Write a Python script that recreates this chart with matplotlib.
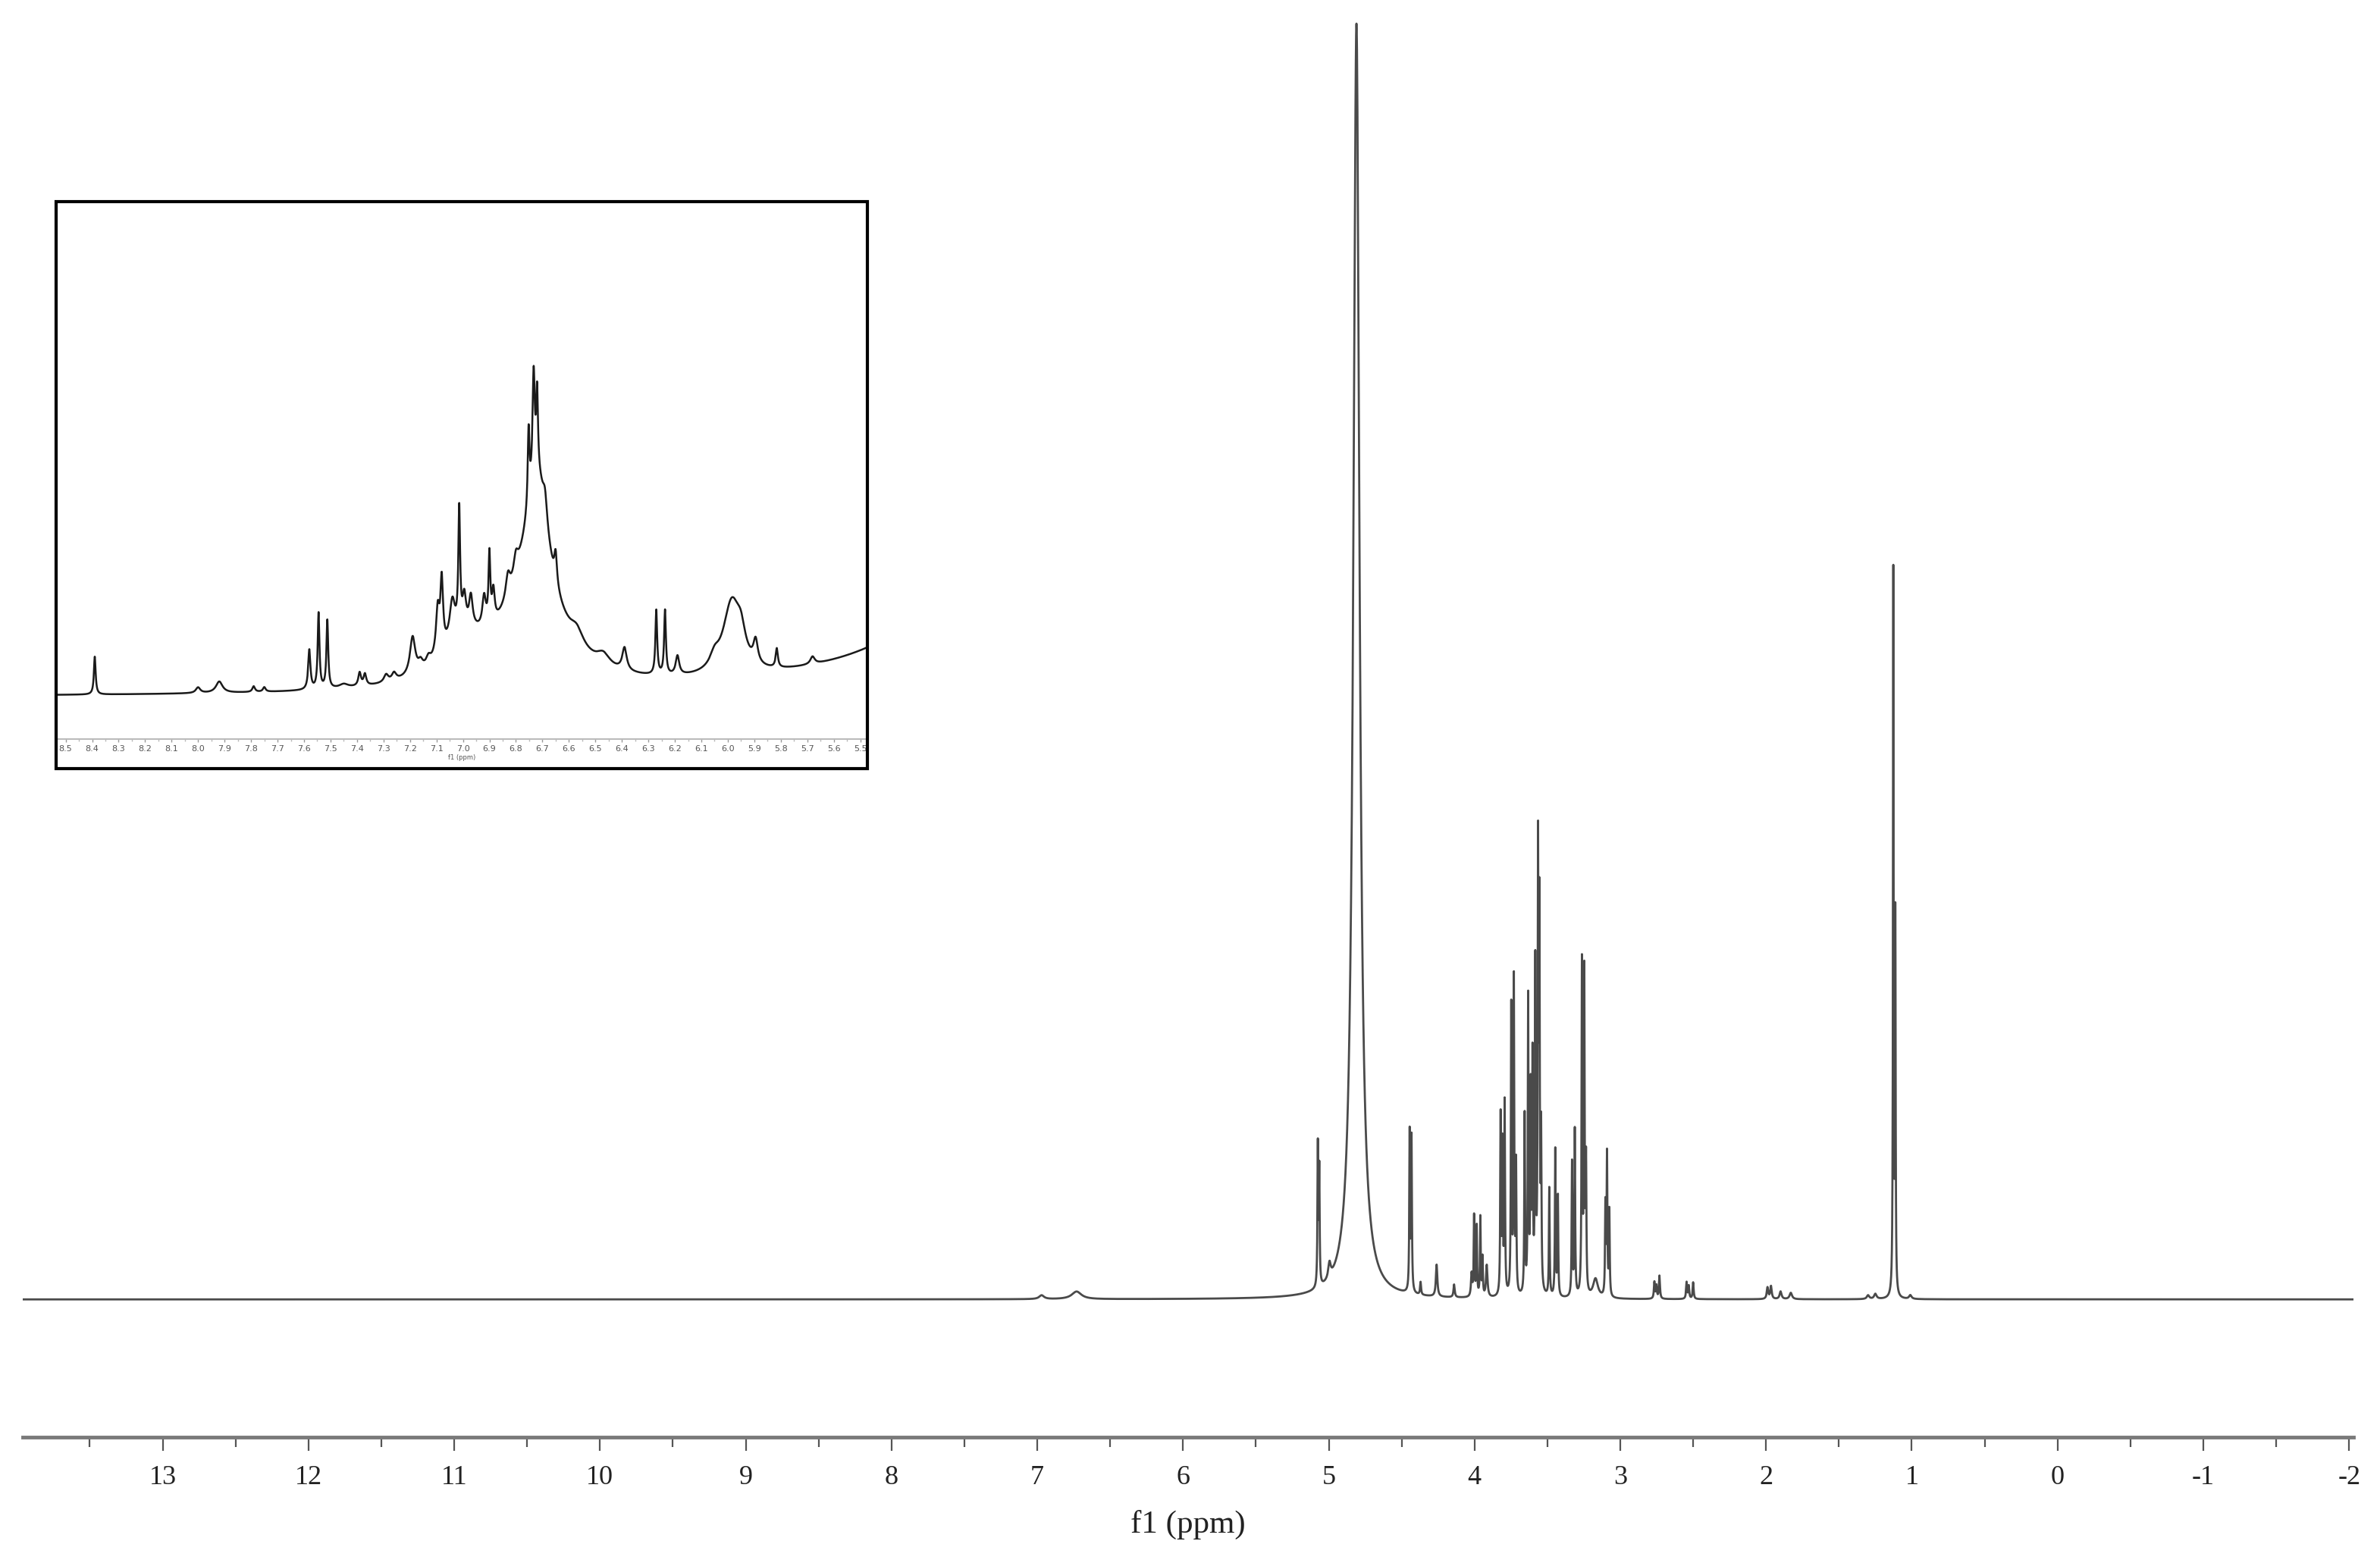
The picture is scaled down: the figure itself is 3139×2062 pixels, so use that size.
import numpy as np
import matplotlib.pyplot as plt
from matplotlib.patches import Rectangle
from matplotlib.ticker import MultipleLocator

plt.rcParams["axes.unicode_minus"] = False

# main spectrum: peak centres (ppm), heights (% of the largest), half widths (ppm)
peak_ppm = [6.97, 6.73, 5.075, 5.065, 4.995, 4.81, 4.445, 4.432, 4.37, 4.26, 4.14,
            4.02, 4.003, 3.985, 3.96, 3.945, 3.916,
            3.821, 3.808, 3.793, 3.748, 3.730, 3.715,
            3.656, 3.632, 3.615, 3.602, 3.583, 3.564, 3.555, 3.543,
            3.487, 3.446, 3.428, 3.331, 3.312,
            3.263, 3.247, 3.235, 3.17, 3.102, 3.091, 3.075,
            2.766, 2.752, 2.731, 2.545, 2.53, 2.50,
            1.99, 1.966, 1.90, 1.83, 1.30, 1.25, 1.127, 1.113, 1.01]
peak_height = [0.3, 0.6, 11.0, 9.0, 1.2, 100, 12.5, 12.0, 1.0, 2.5, 1.0,
               1.8, 6.3, 5.5, 6.2, 3.0, 2.5,
               14.0, 11.5, 15.0, 22.5, 24.5, 10.0,
               14.0, 23.0, 15.5, 18.0, 25.5, 33.5, 28.5, 12.0,
               8.5, 11.5, 7.8, 10.5, 13.0,
               26.0, 25.0, 10.0, 1.5, 7.0, 11.0, 6.7,
               1.3, 1.0, 1.8, 1.3, 1.0, 1.3,
               0.9, 1.0, 0.6, 0.5, 0.3, 0.4, 57.0, 29.5, 0.3]
peak_width = [0.02, 0.04, 0.003, 0.003, 0.01, 0.025, 0.003, 0.003, 0.004, 0.006, 0.005,
              0.005, 0.003, 0.003, 0.003, 0.003, 0.006,
              0.003, 0.003, 0.003, 0.003, 0.003, 0.003,
              0.003, 0.003, 0.003, 0.003, 0.003, 0.003, 0.003, 0.003,
              0.003, 0.003, 0.003, 0.003, 0.003,
              0.003, 0.003, 0.003, 0.02, 0.003, 0.003, 0.003,
              0.004, 0.004, 0.004, 0.004, 0.004, 0.004,
              0.006, 0.006, 0.008, 0.01, 0.01, 0.01, 0.0025, 0.0025, 0.01]

# inset (aromatic region, 8.5 - 5.5 ppm)
inset_ppm = [8.39, 8.00, 7.92, 7.79, 7.75, 7.58, 7.545, 7.512, 7.45, 7.39, 7.37,
             7.29, 7.26, 7.19, 7.16, 7.13, 7.095, 7.08, 7.04, 7.014, 6.995, 6.97,
             6.92, 6.90, 6.885, 6.83, 6.80, 6.752, 6.733, 6.72, 6.69,
             6.65, 6.57, 6.47, 6.39, 6.27, 6.237, 6.19, 6.05, 5.985, 5.95, 5.895,
             5.815, 5.68,
             6.74, 6.72, 7.0, 4.81]
inset_height = [10, 1.5, 3, 1.5, 1.2, 10.5, 20, 18, 1, 3.5, 3,
                2, 2, 10, 2, 2, 12, 18, 10, 31, 8, 8,
                8, 18, 8, 6, 5, 20, 28, 21, 7,
                8, 4, 3, 6, 17, 17, 5, 3, 19, 6, 6,
                5, 2,
                25, 30, 10, 75]
inset_width = [0.004, 0.01, 0.015, 0.006, 0.006, 0.005, 0.004, 0.004, 0.02, 0.006, 0.006,
               0.01, 0.01, 0.012, 0.01, 0.01, 0.008, 0.006, 0.012, 0.004, 0.008, 0.008,
               0.008, 0.004, 0.006, 0.01, 0.01, 0.004, 0.005, 0.004, 0.01,
               0.006, 0.03, 0.03, 0.01, 0.004, 0.004, 0.008, 0.02, 0.04, 0.02, 0.01,
               0.005, 0.01,
               0.13, 0.05, 0.1, 0.3]


def lorentz_sum(x, centres, heights, widths):
    y = np.zeros_like(x)
    for c, h, w in zip(centres, heights, widths):
        y += h * w ** 2 / (w ** 2 + (x - c) ** 2)
    return y


W, H = 3139, 2062
fig = plt.figure(figsize=(W / 100, H / 100), dpi=100)

# main axes
x = np.arange(-2.03, 13.96, 0.0004)
y = lorentz_sum(x, peak_ppm, peak_height, peak_width)

left, right, top, bottom = 30, 3104, 28, 1896
ax = fig.add_axes([left / W, 1 - bottom / H, (right - left) / W, (bottom - top) / H])
ax.plot(x, y, color="#4a4a4a", lw=2.0)
ax.set_xlim(13.96, -2.03)
ax.set_ylim(-10.8, 100.2)
for s in ["left", "right", "top"]:
    ax.spines[s].set_visible(False)
ax.spines["bottom"].set_color("#7a7a7a")
ax.spines["bottom"].set_linewidth(3.5)
ax.set_yticks([])
ax.xaxis.set_major_locator(MultipleLocator(1))
ax.xaxis.set_minor_locator(MultipleLocator(0.5))
ax.tick_params(axis="x", which="major", length=13, width=1.6, color="#555555",
               pad=14, labelsize=26, labelcolor="#222222")
ax.tick_params(axis="x", which="minor", length=9, width=1.6, color="#555555")
for lab in ax.get_xticklabels():
    lab.set_fontfamily("Liberation Serif")
ax.set_xlabel("f1 (ppm)", fontsize=31, family="Liberation Serif", color="#222222", labelpad=18)

# inset
il, ir, it, ib, iaxis = 74, 1144, 266, 1014, 975
fig.patches.append(Rectangle((il / W, 1 - ib / H), (ir - il) / W, (ib - it) / H,
                             transform=fig.transFigure, fill=False, ec="black", lw=3))
axi = fig.add_axes([il / W, 1 - iaxis / H, (ir - il) / W, (iaxis - it) / H])
xi = np.arange(5.47, 8.54, 0.0005)
yi = lorentz_sum(xi, inset_ppm, inset_height, inset_width)
axi.plot(xi, yi, color="#1a1a1a", lw=1.8)
axi.set_xlim(8.536, 5.473)
axi.set_ylim(-11, 131)
for s in ["left", "right", "top"]:
    axi.spines[s].set_visible(False)
axi.spines["bottom"].set_color("#bbbbbb")
axi.spines["bottom"].set_linewidth(1.5)
axi.spines["bottom"].set_linestyle((0, (2, 1)))
axi.set_yticks([])
axi.xaxis.set_major_locator(MultipleLocator(0.1))
axi.xaxis.set_minor_locator(MultipleLocator(0.05))
axi.xaxis.set_major_formatter(lambda v, p: f"{v:.1f}")
axi.tick_params(axis="x", which="major", length=3, width=1, color="#999999",
                pad=3, labelsize=8, labelcolor="#555555")
axi.tick_params(axis="x", which="minor", length=2, width=1, color="#bbbbbb")
axi.set_xlabel("f1 (ppm)", fontsize=6, color="#555555", labelpad=1)

fig.savefig("out.png", dpi=100, facecolor="white")
